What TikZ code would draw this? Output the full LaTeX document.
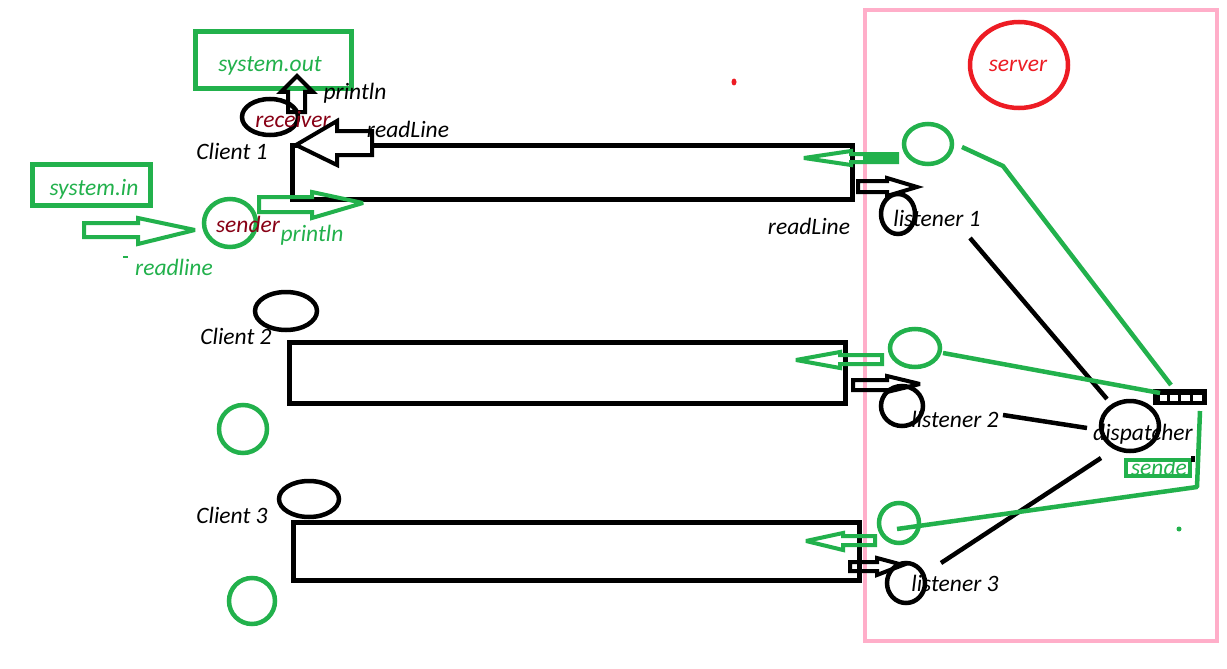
\documentclass[tikz,border=0pt]{standalone}
\usepackage{fontspec}
\setmainfont{Carlito}
\definecolor{pgreen}{HTML}{22B14C}
\definecolor{pred}{HTML}{ED1C24}
\definecolor{ppink}{HTML}{FFAEC9}
\definecolor{pdark}{HTML}{880015}
\tikzset{
  lbl/.style={font=\fontsize{23.5}{27}\selectfont\itshape, inner sep=0pt, yshift=-1.5pt},
  blk/.style={draw=black, line width=4.5pt},
  grn/.style={draw=pgreen, line width=4.5pt},
  rectbox/.style={draw=black, line width=5pt},
  harrow/.style={line width=4pt, line join=miter, miter limit=4},
}
\begin{document}
\begin{tikzpicture}[x=1pt,y=-1pt]
\useasboundingbox (0,0) rectangle (1227,669);
\fill[white] (0,0) rectangle (1227,669);

% server frame
\draw[draw=ppink, line width=4.5pt] (865,10) rectangle (1217,641);
\draw[draw=pred, line width=4.5pt] (1019,65) ellipse [x radius=49, y radius=43];
\node[lbl, text=pred] (server) at (1018,64) {server};
\fill[pred] (734,82) ellipse [x radius=2.5, y radius=3.5];

% client 1
\draw[grn, line width=5pt] (195,32) rectangle (351,89);
\node[lbl, text=pgreen] (sysout) at (270,64) {system.out};
\draw[blk, harrow] (288,112) -- (288,92) -- (281,92) -- (297,76) -- (313,92) -- (305,92) -- (305,112) -- cycle;
\node[lbl] (println1) at (355,92) {println};
\draw[blk] (270,117) ellipse [x radius=28, y radius=18];
\node[lbl, text=pdark] (receiver) at (293,118) {receiver};
\draw[rectbox] (292,145) rectangle (852,199);
\draw[blk, harrow, fill=white] (372,131) -- (337,131) -- (337,121) -- (296,145) -- (337,165) -- (337,155) -- (372,155) -- cycle;
\node[lbl] (readLine1) at (408,128) {readLine};
\node[lbl] (client1) at (232,150) {Client 1};

\draw[grn, line width=5pt] (32,164) rectangle (150,205);
\node[lbl, text=pgreen] (sysin) at (94,188) {system.in};
\draw[grn, harrow] (84,223) -- (138,223) -- (138,218) -- (195,230) -- (138,244) -- (138,237) -- (84,237) -- cycle;
\node[lbl, text=pgreen] (readline) at (174,266) {readline};
\draw[pgreen, line width=1.5pt] (123,257) -- (128,257);
\draw[grn] (230,223) ellipse [x radius=26, y radius=24];
\node[lbl, text=pdark] (sender1) at (248,223) {sender};
\draw[grn, harrow] (259,197) -- (312,197) -- (312,192) -- (363,203) -- (312,218) -- (312,212) -- (259,212) -- cycle;
\node[lbl, text=pgreen] (println2) at (312,234) {println};

% client 1 right side
\draw[grn, harrow] (897,154) -- (851,154) -- (851,151) -- (804,158) -- (851,165) -- (851,162) -- (897,162) -- cycle;
\fill[pgreen] (863,152) rectangle (897,164);
\draw[grn] (928,144) ellipse [x radius=24, y radius=20];
\draw[blk, harrow] (858,181) -- (887,181) -- (887,178) -- (917,187) -- (887,196) -- (887,192) -- (858,192) -- cycle;
\draw[blk] (898,214) ellipse [x radius=17, y radius=20];
\node[lbl] (listener1) at (937,217) {listener 1};
\node[lbl] (readLine2) at (809,225) {readLine};

% client 2
\draw[blk] (286,311) ellipse [x radius=31, y radius=19];
\node[lbl] (client2) at (236,335) {Client 2};
\draw[rectbox] (289,342) rectangle (845,403);
\draw[grn] (243,429) ellipse [x radius=24, y radius=24];
\draw[grn, harrow] (882,355) -- (840,355) -- (840,352) -- (796,360) -- (840,368) -- (840,364) -- (882,364) -- cycle;
\draw[grn] (915,348) ellipse [x radius=25, y radius=19];
\draw[blk, harrow] (853,380) -- (887,380) -- (887,376) -- (920,384) -- (887,392) -- (887,390) -- (853,390) -- cycle;
\draw[blk] (902,406) ellipse [x radius=21, y radius=20];
\node[lbl] (listener2) at (955,418) {listener 2};

% client 3
\draw[blk] (309,499) ellipse [x radius=30, y radius=18];
\node[lbl] (client3) at (232,514) {Client 3};
\draw[rectbox] (293,522) rectangle (859,580);
\draw[grn] (252,601) ellipse [x radius=23, y radius=23];
\draw[grn, harrow] (875,536) -- (843,536) -- (843,533) -- (806,541) -- (843,550) -- (843,545) -- (875,545) -- cycle;
\draw[grn] (899,523) ellipse [x radius=20, y radius=20];
\draw[blk, harrow] (850,562) -- (877,562) -- (877,558) -- (903,565) -- (877,575) -- (877,571) -- (850,571) -- cycle;
\draw[blk] (906,583) ellipse [x radius=19, y radius=20];
\node[lbl] (listener3) at (955,582) {listener 3};

% dispatcher
\draw[blk] (1130,426) ellipse [x radius=29, y radius=25];
\node[lbl] (dispatcher) at (1143,433) {dispatcher};
\coordinate (buf) at (1180,397);
\fill[black] (1153,389) rectangle (1207,405);
\foreach \a/\b in {1160/1167,1170/1178,1181/1190,1193/1202}
  \fill[white] (\a,395) rectangle (\b,401);

\draw[blk] (970,238) -- (1107,399);
\draw[blk] (1003,415) -- (1087,428);
\draw[blk] (1101,458) -- (941,563);

\draw[grn, line join=round] (962,147) -- (1003,166) -- (1171,385);
\draw[grn] (943,353) -- (1160,393);
\draw[grn, line join=round] (1200,411) -- (1197,487) -- (897,529);

\draw[grn, line width=4.5pt] (1126,460) rectangle (1190,476);
\begin{scope}
\clip (1128,440) rectangle (1187,490);
\node[lbl, text=pgreen] (sender2) at (1163,466) {sender};
\end{scope}
\fill[black] (1191,456) rectangle (1195,462);
\fill[pgreen] (1179,529) circle [radius=2.5];
\end{tikzpicture}
\end{document}
